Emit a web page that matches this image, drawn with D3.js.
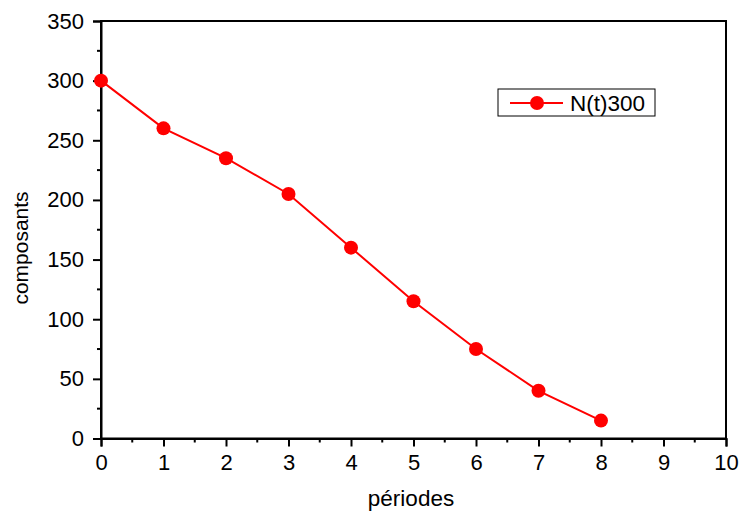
<!DOCTYPE html>
<html>
<head>
<meta charset="utf-8">
<script src="https://cdn.jsdelivr.net/npm/d3@7"></script>
<style>
  html, body { margin: 0; padding: 0; background: #fff; }
  svg { display: block; font-family: "Liberation Sans", Arial, sans-serif; }
</style>
</head>
<body>
<svg id="chart" width="744" height="516"></svg>
<script>
// Component count per period
const periods = [0, 1, 2, 3, 4, 5, 6, 7, 8];
const composants = [300, 260, 235, 205, 160, 115, 75, 40, 15];
const seriesName = "N(t)300";
const xTicks = [0, 1, 2, 3, 4, 5, 6, 7, 8, 9, 10];
const yTicks = [0, 50, 100, 150, 200, 250, 300, 350];

const svg = d3.select("#chart");
const m = { left: 101, top: 21, right: 726, bottom: 438.5 };

const x = d3.scaleLinear().domain([0, 10]).range([m.left, m.right]);
const y = d3.scaleLinear().domain([0, 350]).range([m.bottom, m.top]);

// Frame (top and right edges)
svg.append("rect")
  .attr("x", m.left).attr("y", m.top)
  .attr("width", m.right - m.left).attr("height", m.bottom - m.top)
  .attr("fill", "none").attr("stroke", "#000").attr("stroke-width", 2);

// Minor ticks
const minorX = d3.range(0.5, 10, 1);
const minorY = d3.range(25, 350, 50);
svg.append("g").selectAll("line").data(minorX).join("line")
  .attr("x1", d => x(d)).attr("x2", d => x(d))
  .attr("y1", m.bottom).attr("y2", m.bottom + 4)
  .attr("stroke", "#000").attr("stroke-width", 2);
svg.append("g").selectAll("line").data(minorY).join("line")
  .attr("y1", d => y(d)).attr("y2", d => y(d))
  .attr("x1", m.left).attr("x2", m.left - 4)
  .attr("stroke", "#000").attr("stroke-width", 2);

// Axes
const xAxis = svg.append("g").attr("transform", `translate(0,${m.bottom})`)
  .call(d3.axisBottom(x).tickValues(xTicks).tickFormat(d3.format("d")).tickSize(8).tickPadding(7.5));
const yAxis = svg.append("g").attr("transform", `translate(${m.left},0)`)
  .call(d3.axisLeft(y).tickValues(yTicks).tickFormat(d3.format("d")).tickSize(8).tickPadding(9));
[xAxis, yAxis].forEach(g => {
  g.select(".domain").attr("stroke-width", 2);
  g.selectAll(".tick line").attr("stroke-width", 2);
  g.selectAll("text").attr("font-size", 22).attr("fill", "#000")
    .attr("font-family", "'Liberation Sans', Arial, sans-serif");
});

// Axis titles
svg.append("text").attr("x", 411).attr("y", 506)
  .attr("text-anchor", "middle").attr("font-size", 22.5).text("périodes");
svg.append("text").attr("transform", `translate(28,248) rotate(-90)`)
  .attr("text-anchor", "middle").attr("font-size", 21).text("composants");

// Series line and markers
const pts = periods.map((p, i) => [p, composants[i]]);
svg.append("path").datum(pts)
  .attr("fill", "none").attr("stroke", "#ff0000").attr("stroke-width", 2)
  .attr("d", d3.line().x(d => x(d[0])).y(d => y(d[1])));
svg.append("g").selectAll("circle").data(pts).join("circle")
  .attr("cx", d => x(d[0])).attr("cy", d => y(d[1])).attr("r", 7)
  .attr("fill", "#ff0000");

// Legend
const lg = svg.append("g");
lg.append("rect").attr("x", 498).attr("y", 89).attr("width", 157).attr("height", 27)
  .attr("fill", "#fff").attr("stroke", "#000").attr("stroke-width", 1);
lg.append("line").attr("x1", 510).attr("x2", 563).attr("y1", 103).attr("y2", 103)
  .attr("stroke", "#ff0000").attr("stroke-width", 2);
lg.append("circle").attr("cx", 537).attr("cy", 103).attr("r", 7).attr("fill", "#ff0000");
lg.append("text").attr("x", 570).attr("y", 110.5).attr("font-size", 22.5).text(seriesName);
</script>
</body>
</html>
